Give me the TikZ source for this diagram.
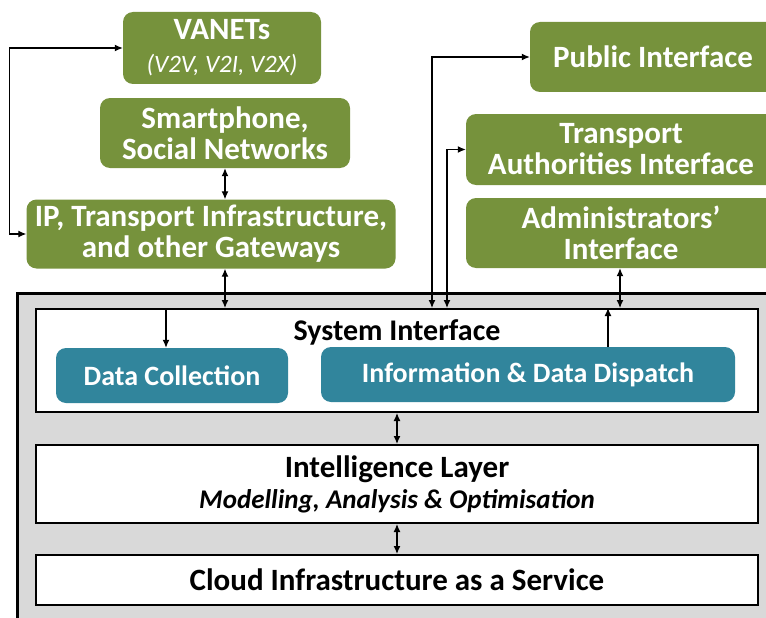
\documentclass[tikz,border=0pt]{standalone}
\usepackage{fontspec}
\setmainfont{Carlito}
\usepackage{xcolor}
\usepackage{tikz}
\usetikzlibrary{calc,arrows.meta}
\definecolor{leaf}{HTML}{76923C}
\definecolor{sea}{HTML}{31859C}
\definecolor{panel}{HTML}{D9D9D9}
\definecolor{ink}{HTML}{000000}
\tikzset{
  gbox/.style={fill=leaf, text=white, rounded corners=10pt, align=center, inner sep=0pt, font=\bfseries\fontsize{31}{31}\selectfont},
  tbox/.style={fill=sea, text=white, rounded corners=10pt, inner sep=0pt, font=\bfseries\fontsize{28}{29}\selectfont},
  layer/.style={draw=ink, fill=white, line width=2pt, align=center, inner sep=0pt, text=ink, font=\bfseries\fontsize{31}{31}\selectfont},
  lab/.style={text=ink, inner sep=0pt, font=\bfseries\fontsize{30}{31}\selectfont},
  link/.style={draw=ink, line width=1.2pt, >={Latex[length=8pt,width=7pt]}, <->},
  tip/.style={draw=ink, line width=1.2pt, >={Latex[length=8pt,width=7pt]}, ->},
}

\begin{document}
\begin{tikzpicture}[x=1pt,y=-1pt]
  \useasboundingbox (0,0) rectangle (766,618);
  \clip (0,0) rectangle (766,618);

  % platform panel
  \draw[draw=ink, fill=panel, line width=3pt] (17,293) rectangle (790,640);

  % sources
  \node[gbox, minimum width=198pt, minimum height=72pt] (vanets) at (222,48)
    {VANETs\\[2pt]{\mdseries\itshape\fontsize{25}{25}\selectfont (V2V, V2I, V2X)}};
  \node[gbox, minimum width=250pt, minimum height=70pt] (smart) at (225,133) {Smartphone,\\Social Networks};
  \node[gbox, minimum width=369pt, minimum height=69pt] (gateway) at (211,234) {IP, Transport Infrastructure,\\and other Gateways};

  % interfaces
  \node[gbox, minimum width=246pt, minimum height=70pt] (public) at (653,57) {Public Interface};
  \node[gbox, minimum width=310pt, minimum height=71pt] (transport) at (621,149.5) {Transport\\Authorities Interface};
  \node[gbox, minimum width=310pt, minimum height=70pt] (admin) at (621,233) {Administrators'\\Interface};

  % layers
  \node[layer, minimum width=722pt, minimum height=103pt] (si) at (397,360.5) {};
  \node[lab] (silab) at (397,332) {System Interface};
  \node[tbox, minimum width=232pt, minimum height=55pt] (collect) at (172,375.5) {Data Collection};
  \node[tbox, minimum width=414pt, minimum height=55pt] (dispatch) at (528,374.5) {Information \& Data Dispatch};
  \node[layer, minimum width=722pt, minimum height=78pt] (intel) at (397,484)
    {Intelligence Layer\\{\itshape\fontsize{27}{27}\selectfont Modelling, Analysis \& Optimisation}};
  \node[layer, minimum width=722pt, minimum height=50pt] (cloud) at (397,580) {Cloud Infrastructure as a Service};

  % taps on the system interface
  \coordinate (pubtap) at ([xshift=35pt]si.north);
  \coordinate (authtap) at ([xshift=50pt]si.north);
  \coordinate (admintap) at ([xshift=223pt]si.north);
  \coordinate (colltap) at ([xshift=-231pt]si.north);
  \coordinate (disptap) at ([xshift=80pt]dispatch.north);

  % links
  \draw[link] (vanets.west) -- ++(-113,0) |- (gateway.west);
  \draw[link] (smart.south) -- (smart.south |- gateway.north);
  \draw[link] (smart.south |- gateway.south) -- (smart.south |- si.north);
  \draw[link] (pubtap) |- (public.west);
  \draw[link] (authtap) |- (transport.west);
  \draw[link] (admintap) -- (admintap |- admin.south);
  \draw[tip] (colltap) -- (colltap |- collect.north);
  \draw[tip] (disptap) -- (disptap |- si.north);
  \draw[link] (si.south) -- (intel.north);
  \draw[link] (intel.south) -- (cloud.north);
\end{tikzpicture}
\end{document}
